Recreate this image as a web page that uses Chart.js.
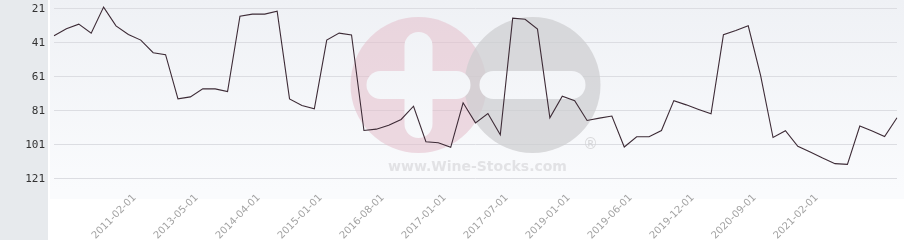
<!DOCTYPE html>
<html>
<head>
<meta charset="utf-8">
<script src="https://cdn.jsdelivr.net/npm/chart.js@4/dist/chart.umd.min.js"></script>
<style>
  html, body { margin: 0; padding: 0; background: #fff; }
  #wrap { width: 904px; height: 240px; }
</style>
</head>
<body>
<div id="wrap"><canvas id="rank-canvas" width="904" height="240"></canvas></div>
<script>
// x categories (only every 5th one carries a visible date)
const categories = [
  '', '', '', '', '', '', '', '2011-02-01', '', '',
  '', '', '2013-05-01', '', '', '', '', '2014-04-01', '', '',
  '', '', '2015-01-01', '', '', '', '', '2016-08-01', '', '',
  '', '', '2017-01-01', '', '', '', '', '2017-07-01', '', '',
  '', '', '2019-01-01', '', '', '', '', '2019-06-01', '', '',
  '', '', '2019-12-01', '', '', '', '', '2020-09-01', '', '',
  '', '', '2021-02-01', '', '', '', '', '', '',
]

// rank over time (lower = better, axis reversed)
const ranks = [
  36.8, 32.7, 30.0, 35.3, 20.0, 31.0, 36.1, 39.4, 46.8, 48.0,
  74.0, 72.8, 68.1, 68.1, 69.7, 25.3, 24.1, 24.1, 22.4, 74.0,
  77.9, 79.8, 39.4, 35.3, 36.4, 92.6, 91.8, 89.5, 86.1, 78.3,
  99.2, 99.8, 102.5, 76.3, 88.1, 82.6, 95.1, 26.5, 27.1, 32.9,
  85.1, 72.4, 75.0, 86.7, 85.3, 84.1, 102.3, 96.3, 96.3, 92.6,
  75.0, 77.5, 80.2, 82.8, 36.2, 33.7, 31.0, 60.3, 96.7, 92.7,
  101.9, 105.3, 108.8, 112.1, 112.5, 90.0, 92.9, 96.1, 85.1,
]

const yTicks = [21, 41, 61, 81, 101, 121]
const yMin = 15.8
const yMax = 127.6

function bgGradient(ctx, area) {
  const g = ctx.createLinearGradient(0, area.top, 0, area.bottom)
  g.addColorStop(0, '#eff1f5')
  g.addColorStop(1, '#fafbfd')
  return g
}

function roundBar(ctx, x, y, w, h) {
  const r = Math.min(w, h) / 2
  ctx.beginPath()
  ctx.roundRect(x, y, w, h, r)
  ctx.fill()
}

// grey side panel + plot background
const backdrop = {
  id: 'backdrop',
  beforeDraw(chart) {
    const { ctx, chartArea: a, width, height } = chart
    ctx.save()
    ctx.fillStyle = '#ffffff'
    ctx.fillRect(0, 0, width, height)
    ctx.fillStyle = bgGradient(ctx, a)
    ctx.fillRect(a.left - 4, a.top, width - a.left + 4, a.bottom - a.top + 9)
    ctx.fillStyle = '#e7eaed'
    ctx.fillRect(0, 0, 48, height)
    ctx.restore()
  },
}

// wine-stocks watermark behind the line
const watermark = {
  id: 'watermark',
  beforeDatasetsDraw(chart) {
    const { ctx, chartArea: a } = chart
    const cx = (a.left + a.right) / 2
    const cy = 85
    const r = 68
    ctx.save()
    ctx.fillStyle = 'rgba(228,190,202,0.55)'
    ctx.beginPath(); ctx.arc(cx - 57, cy, r, 0, Math.PI * 2); ctx.fill()
    ctx.fillStyle = 'rgba(205,205,208,0.72)'
    ctx.beginPath(); ctx.arc(cx + 57, cy, r, 0, Math.PI * 2); ctx.fill()
    ctx.fillStyle = bgGradient(ctx, a)
    roundBar(ctx, cx - 57 - 14, cy - 53, 28, 106)
    roundBar(ctx, cx - 57 - 52, cy - 14, 104, 28)
    roundBar(ctx, cx + 57 - 53, cy - 14, 106, 28)
    ctx.fillStyle = 'rgba(220,220,223,0.8)'
    ctx.font = 'bold 14px "DejaVu Sans", sans-serif'
    ctx.textAlign = 'center'
    ctx.textBaseline = 'middle'
    ctx.fillText('www.Wine-Stocks.com', cx + 2, cy + 82)
    ctx.fillStyle = 'rgba(210,210,213,0.85)'
    ctx.font = '15px "DejaVu Sans", sans-serif'
    ctx.fillText('®', cx + 115, cy + 60)
    ctx.restore()
  },
}

const ctx = document.getElementById('rank-canvas').getContext('2d')
window.rankChart = new Chart(ctx, {
  type: 'line',
  data: {
    labels: categories,
    datasets: [
      { label: 'Rank', data: ranks, borderColor: '#3d2b36', borderWidth: 1.1, pointRadius: 0, tension: 0, fill: false },
    ],
  },
  options: {
    responsive: false,
    animation: false,
    events: [],
    layout: { padding: { top: 0, right: 7, bottom: 0, left: 0 } },
    plugins: { legend: { display: false }, tooltip: { enabled: false } },
    scales: {
      x: {
        grid: { display: false },
        border: { display: false },
        afterFit: s => { s.height = 50; s.paddingLeft = 0; s.paddingRight = 0 },
        ticks: {
          autoSkip: false,
          minRotation: 45,
          maxRotation: 45,
          padding: -6,
          labelOffset: -6,
          color: '#a3a3a3',
          font: { family: "'DejaVu Sans', sans-serif", size: 10 },
        },
      },
      y: {
        reverse: true,
        min: yMin,
        max: yMax,
        afterBuildTicks: s => { s.ticks = yTicks.map(v => ({ value: v })) },
        afterFit: s => { s.width = 54; s.paddingTop = 0; s.paddingBottom = 0 },
        grid: { color: '#dcdde2', drawTicks: false },
        border: { display: false },
        ticks: {
          padding: 9,
          color: '#333333',
          font: { family: "'DejaVu Sans Mono', monospace", size: 11 },
        },
      },
    },
  },
  plugins: [backdrop, watermark],
})
</script>
</body>
</html>
